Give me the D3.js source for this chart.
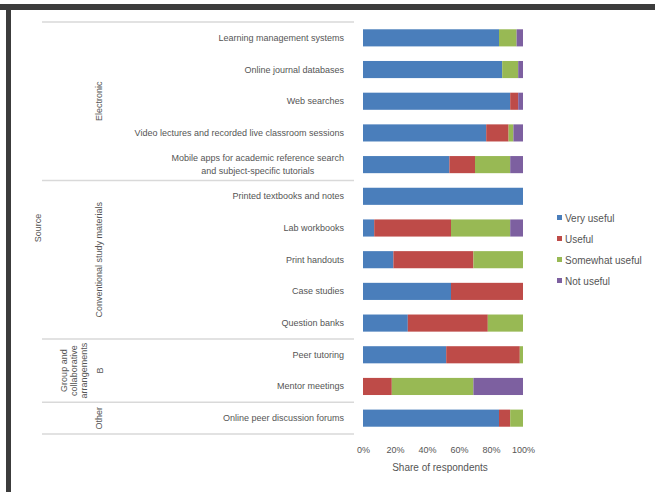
<!DOCTYPE html>
<html>
<head>
<meta charset="utf-8">
<script src="https://cdn.jsdelivr.net/npm/d3@7"></script>
<style>
  html, body { margin: 0; padding: 0; background: #fff; }
  svg { display: block; font-family: "Liberation Sans", Arial, sans-serif; }
</style>
</head>
<body>
<svg id="chart" width="655" height="492"></svg>
<script>
// Learning resource survey: how useful respondents rate each resource
const categories = [
  ["Learning management systems"],
  ["Online journal databases"],
  ["Web searches"],
  ["Video lectures and recorded live classroom sessions"],
  ["Mobile apps for academic reference search", "and subject-specific tutorials"],
  ["Printed textbooks and notes"],
  ["Lab workbooks"],
  ["Print handouts"],
  ["Case studies"],
  ["Question banks"],
  ["Peer tutoring"],
  ["Mentor meetings"],
  ["Online peer discussion forums"]
];
const seriesNames = ["Very useful", "Useful", "Somewhat useful", "Not useful"];
const veryUseful     = [85, 87, 92, 77, 54, 100,  7, 19, 55, 28, 52,  0, 85];
const useful         = [ 0,  0,  5, 14, 16,   0, 48, 50, 45, 50, 46, 18,  7];
const somewhatUseful = [11, 10,  0,  3, 22,   0, 37, 31,  0, 22,  2, 51,  8];
const notUseful      = [ 4,  3,  3,  6,  8,   0,  8,  0,  0,  0,  0, 31,  0];
const xTicks = [0, 20, 40, 60, 80, 100];
const xTitle = "Share of respondents";
// Category groups: [first row, last row, label lines]
const groups = [
  [0, 4, ["Electronic"]],
  [5, 9, ["Conventional study materials"]],
  [10, 11, ["Group and", "collaborative", "arrangements"]],
  [12, 12, ["Other"]]
];
const subLabel = "B";
const outerLabel = "Source";
const colors = ["#4a7ebb", "#be4b48", "#98b954", "#7d60a0"];

const svg = d3.select("#chart");
const textColor = "#555555";

// frame edges
svg.append("rect").attr("x", 0).attr("y", 4).attr("width", 655).attr("height", 6).attr("fill", "#3c3c3c");
svg.append("rect").attr("x", 6).attr("y", 4).attr("width", 5).attr("height", 488).attr("fill", "#3c3c3c");

const rows = categories.map((c, i) => {
  const r = { id: i };
  [veryUseful, useful, somewhatUseful, notUseful].forEach((arr, k) => { r[seriesNames[k]] = arr[i]; });
  return r;
});

const x = d3.scaleLinear().domain([0, 100]).range([363, 523]);
const y = d3.scaleBand().domain(rows.map(r => r.id)).range([22, 434]).paddingInner(0.46).paddingOuter(0.23);
const step = y.step();

const stacked = d3.stack().keys(seriesNames)(rows);

svg.append("g").selectAll("g").data(stacked).join("g")
  .attr("fill", (d, i) => colors[i])
  .selectAll("rect").data(d => d).join("rect")
  .attr("x", d => x(d[0]))
  .attr("y", d => y(d.data.id))
  .attr("width", d => x(d[1]) - x(d[0]))
  .attr("height", y.bandwidth());

// x axis labels
const xAxis = svg.append("g").attr("transform", "translate(0,444)")
  .call(d3.axisBottom(x).tickValues(xTicks).tickFormat(d => d + "%").tickSize(0));
xAxis.select(".domain").remove();
xAxis.selectAll("text").attr("fill", textColor).attr("font-size", 9)
  .attr("font-family", "Liberation Sans, Arial, sans-serif");

svg.append("text").attr("x", 440).attr("y", 471).attr("text-anchor", "middle")
  .attr("fill", textColor).attr("font-size", 10).text(xTitle);

// row labels: right-aligned block, wrapped lines centred within it
const labelRight = 344;
const rowLabel = svg.append("g").attr("font-size", 9).attr("fill", textColor);
categories.forEach((lines, i) => {
  const cy = y(i) + y.bandwidth() / 2;
  const t = rowLabel.append("text");
  const spans = lines.map((ln, j) => t.append("tspan")
    .attr("y", cy + 3 + (j - (lines.length - 1) / 2) * 12.5)
    .text(ln));
  if (lines.length === 1) {
    t.attr("text-anchor", "end");
    spans[0].attr("x", labelRight);
  } else {
    const maxW = d3.max(spans, s => s.node().getComputedTextLength());
    t.attr("text-anchor", "middle");
    spans.forEach(s => s.attr("x", labelRight - maxW / 2));
  }
});

// group separators
const sepRows = [0, 5, 10, 12, 13];
svg.append("g").selectAll("line").data(sepRows).join("line")
  .attr("x1", 42).attr("x2", 354)
  .attr("y1", d => 22 + d * step).attr("y2", d => 22 + d * step)
  .attr("stroke", "#d9d9d9").attr("stroke-width", 1.5);

// group labels (rotated)
const gLab = svg.append("g").attr("font-size", 9).attr("fill", textColor).attr("text-anchor", "middle");
groups.forEach(([a, b, lines]) => {
  const cy = 22 + (a + b + 1) / 2 * step;
  const n = lines.length;
  const baseX = n === 1 ? 102 : 67;
  lines.forEach((ln, j) => {
    gLab.append("text").attr("transform", `translate(${baseX + j * 10},${cy}) rotate(-90)`).text(ln);
  });
});
gLab.append("text").attr("transform", `translate(103,${22 + 11 * step}) rotate(-90)`).text(subLabel);

svg.append("text").attr("transform", `translate(41,${22 + 6.5 * step}) rotate(-90)`)
  .attr("text-anchor", "middle").attr("font-size", 9).attr("fill", textColor).text(outerLabel);

// legend
const legend = svg.append("g").attr("font-size", 10).attr("fill", textColor);
seriesNames.forEach((name, i) => {
  const ly = 218 + i * 21;
  legend.append("rect").attr("x", 557).attr("y", ly - 3).attr("width", 5).attr("height", 5).attr("fill", colors[i]);
  legend.append("text").attr("x", 565).attr("y", ly + 3.5).text(name);
});
</script>
</body>
</html>
